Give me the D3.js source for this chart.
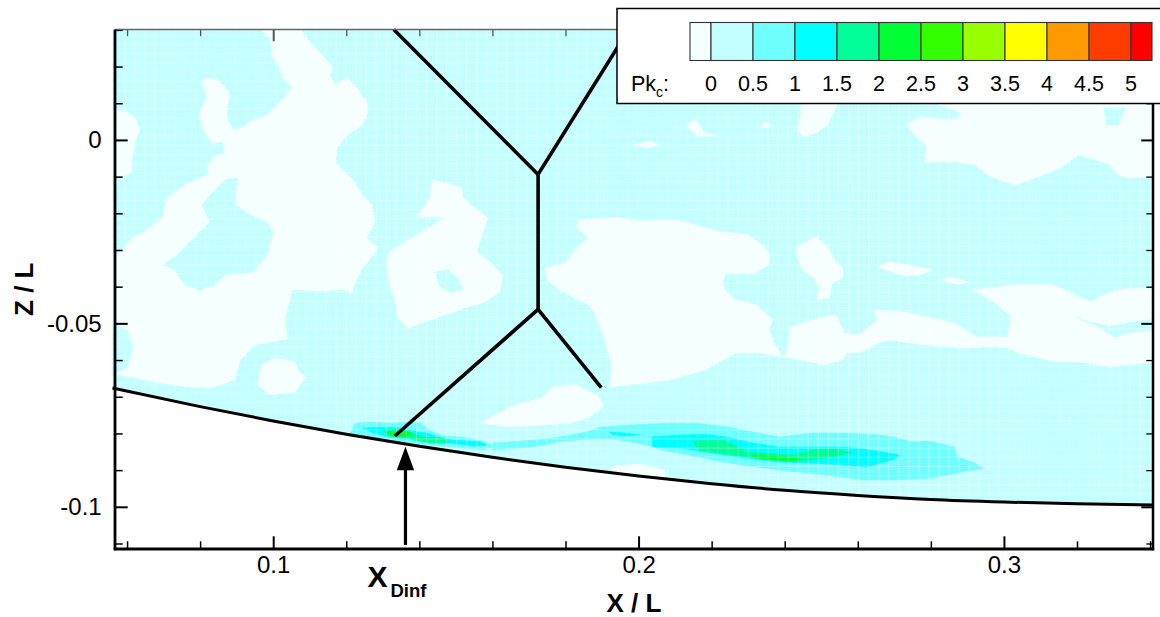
<!DOCTYPE html>
<html><head><meta charset="utf-8">
<script src="https://cdn.jsdelivr.net/npm/d3@7"></script>
<style>
html,body{margin:0;padding:0;background:#fff;}
svg{display:block;font-family:"Liberation Sans",Arial,Helvetica,sans-serif;}
</style></head><body>
<svg id="chart" width="1160" height="617"></svg>
<script>
// ---------------- data ----------------
const xDomain = [0.0567, 0.3408];
const zDomain = [-0.1115, 0.0301];
const xMajorTicks = [0.1, 0.2, 0.3];
const xTickLabels = ["0.1", "0.2", "0.3"];
const xMinorTicks = [0.06, 0.08, 0.12, 0.14, 0.16, 0.18, 0.22, 0.24, 0.26, 0.28, 0.32, 0.34];
const zMajorTicks = [0, -0.05, -0.1];
const zTickLabels = ["0", "-0.05", "-0.1"];
const zMinorTicks = [0.03, 0.02, 0.01, -0.01, -0.02, -0.03, -0.04, -0.06, -0.07, -0.08, -0.09, -0.11];

const legendLevels = [0, 0.5, 1, 1.5, 2, 2.5, 3, 3.5, 4, 4.5, 5];
const legendLabels = ["0", "0.5", "1", "1.5", "2", "2.5", "3", "3.5", "4", "4.5", "5"];
const legendColors = ["#f5ffff", "#c4ffff", "#6effff", "#00ffff", "#00ff99", "#00ff33",
                      "#33ff00", "#99ff00", "#ffff00", "#ff9900", "#ff3c00", "#ff0000"];

// wall (lower boundary of the measured field)
const wallX = [0.0560, 0.08, 0.10, 0.12, 0.14, 0.16, 0.18, 0.20, 0.22, 0.24, 0.26, 0.28, 0.30, 0.32, 0.3410];
const wallZ = [-0.0676, -0.0727, -0.0766, -0.0802, -0.0835, -0.0865, -0.0892, -0.0916, -0.0937, -0.0955, -0.0969, -0.0980, -0.0987, -0.0992, -0.0995];

// shock system lines
const shockUpperLeft  = [[0.1330, 0.0301], [0.1725, -0.0094]];
const shockUpperRight = [[0.1973, 0.0301], [0.1725, -0.0094]];
const shockStem       = [[0.1725, -0.0094], [0.1725, -0.0462]];
const shockLowerLeft  = [[0.1725, -0.0462], [0.1333, -0.0807]];
const shockLowerRight = [[0.1725, -0.0462], [0.1898, -0.0675]];

// X_Dinf arrow
const xDinf = 0.1362, arrowTipZ = -0.0836, arrowTailZ = -0.1104;

// ---- contour regions (x/L, z/L) ----
// Pk_c < 0
const negBlobLeft = [[0.0550,0.0082],[0.0594,0.0079],[0.0622,0.0060],[0.0635,0.0027],[0.0622,-0.0005],[0.0613,-0.0049],[0.0613,-0.0087],[0.0589,-0.0101],[0.0550,-0.0104]];
const negMain = [[0.0955,0.0311],[0.1068,0.0311],[0.1100,0.0267],[0.1128,0.0237],[0.1163,0.0199],[0.1155,0.0177],[0.1169,0.0150],[0.1202,0.0169],[0.1229,0.0142],[0.1256,0.0101],[0.1259,0.0074],[0.1243,0.0041],[0.1210,0.0019],[0.1191,0.0000],[0.1175,-0.0022],[0.1169,-0.0060],[0.1191,-0.0082],[0.1218,-0.0109],[0.1245,-0.0150],[0.1270,-0.0177],[0.1278,-0.0224],[0.1256,-0.0267],[0.1286,-0.0295],[0.1273,-0.0314],[0.1245,-0.0349],[0.1223,-0.0390],[0.1210,-0.0436],[0.1169,-0.0491],[0.1100,-0.0532],[0.1018,-0.0546],[0.0950,-0.0559],[0.0909,-0.0600],[0.0895,-0.0654],[0.0827,-0.0676],[0.0745,-0.0671],[0.0663,-0.0657],[0.0594,-0.0644],[0.0553,-0.0633],[0.0553,-0.0314],[0.0572,-0.0314],[0.0594,-0.0292],[0.0613,-0.0267],[0.0641,-0.0254],[0.0671,-0.0232],[0.0698,-0.0210],[0.0709,-0.0158],[0.0745,-0.0131],[0.0772,-0.0114],[0.0799,-0.0104],[0.0821,-0.0095],[0.0819,-0.0074],[0.0835,-0.0046],[0.0868,-0.0035],[0.0862,-0.0005],[0.0832,-0.0008],[0.0805,0.0033],[0.0799,0.0074],[0.0819,0.0117],[0.0805,0.0155],[0.0813,0.0169],[0.0846,0.0164],[0.0868,0.0144],[0.0881,0.0123],[0.0873,0.0082],[0.0876,0.0049],[0.0895,0.0025],[0.0917,0.0035],[0.0936,0.0049],[0.0983,0.0068],[0.1032,0.0117],[0.1051,0.0144],[0.1024,0.0169],[0.1018,0.0196],[0.0999,0.0224],[0.0991,0.0278]];
const negMid = [[0.1434,-0.0109],[0.1492,-0.0123],[0.1516,-0.0131],[0.1519,-0.0158],[0.1587,-0.0213],[0.1574,-0.0251],[0.1557,-0.0305],[0.1593,-0.0333],[0.1628,-0.0368],[0.1620,-0.0414],[0.1579,-0.0442],[0.1524,-0.0458],[0.1470,-0.0477],[0.1415,-0.0496],[0.1368,-0.0513],[0.1341,-0.0485],[0.1333,-0.0436],[0.1319,-0.0395],[0.1311,-0.0341],[0.1319,-0.0305],[0.1360,-0.0278],[0.1407,-0.0251],[0.1470,-0.0210],[0.1393,-0.0210],[0.1429,-0.0158]];
const negNearWall = [[0.0969,-0.0613],[0.1005,-0.0594],[0.1059,-0.0605],[0.1087,-0.0649],[0.1059,-0.0687],[0.0991,-0.0695],[0.0958,-0.0668]];
const negRightBand = [[0.1836,-0.0218],[0.1940,-0.0210],[0.1995,-0.0221],[0.2088,-0.0218],[0.2129,-0.0224],[0.2181,-0.0240],[0.2214,-0.0248],[0.2299,-0.0259],[0.2340,-0.0286],[0.2359,-0.0314],[0.2356,-0.0341],[0.2318,-0.0363],[0.2288,-0.0363],[0.2239,-0.0363],[0.2230,-0.0390],[0.2239,-0.0414],[0.2266,-0.0436],[0.2323,-0.0450],[0.2351,-0.0477],[0.2381,-0.0499],[0.2414,-0.0510],[0.2507,-0.0482],[0.2540,-0.0477],[0.2564,-0.0526],[0.2603,-0.0532],[0.2654,-0.0491],[0.2643,-0.0464],[0.2726,-0.0469],[0.2862,-0.0499],[0.2925,-0.0537],[0.3010,-0.0537],[0.3021,-0.0482],[0.2966,-0.0436],[0.2914,-0.0409],[0.3029,-0.0395],[0.3136,-0.0395],[0.3207,-0.0428],[0.3240,-0.0442],[0.3183,-0.0469],[0.3207,-0.0491],[0.3251,-0.0507],[0.3303,-0.0540],[0.3344,-0.0526],[0.3426,-0.0518],[0.3426,-0.0605],[0.3333,-0.0613],[0.3292,-0.0619],[0.3207,-0.0605],[0.3147,-0.0605],[0.3040,-0.0581],[0.2999,-0.0564],[0.2947,-0.0564],[0.2884,-0.0567],[0.2788,-0.0559],[0.2685,-0.0545],[0.2654,-0.0554],[0.2611,-0.0578],[0.2570,-0.0581],[0.2559,-0.0600],[0.2507,-0.0613],[0.2414,-0.0594],[0.2329,-0.0581],[0.2266,-0.0581],[0.2181,-0.0627],[0.2088,-0.0654],[0.1921,-0.0674],[0.1927,-0.0613],[0.1907,-0.0545],[0.1888,-0.0491],[0.1866,-0.0450],[0.1825,-0.0431],[0.1784,-0.0409],[0.1751,-0.0382],[0.1743,-0.0349],[0.1784,-0.0341],[0.1806,-0.0327],[0.1831,-0.0292],[0.1864,-0.0267],[0.1831,-0.0240]];
const negTopRight = [[0.2797,0.0109],[0.3426,0.0109],[0.3426,-0.0101],[0.3344,-0.0104],[0.3314,-0.0096],[0.3281,-0.0063],[0.3204,-0.0041],[0.3155,-0.0076],[0.3092,-0.0101],[0.3029,-0.0123],[0.2966,-0.0101],[0.2920,-0.0068],[0.2873,-0.0060],[0.2783,-0.0060],[0.2788,-0.0014],[0.2764,0.0005],[0.2731,0.0041],[0.2775,0.0063],[0.2832,0.0055],[0.2873,0.0057],[0.2884,0.0074],[0.2824,0.0095]];
const negRightStrip = [[0.3177,-0.0472],[0.3218,-0.0450],[0.3292,-0.0414],[0.3344,-0.0404],[0.3426,-0.0404],[0.3426,-0.0485],[0.3344,-0.0496],[0.3289,-0.0507],[0.3221,-0.0491]];
const negSliverA = [[0.2654,-0.0346],[0.2685,-0.0333],[0.2805,-0.0354],[0.2769,-0.0368],[0.2726,-0.0371]];
const negSliverB = [[0.2827,-0.0382],[0.2852,-0.0373],[0.2901,-0.0387],[0.2873,-0.0395]];
const negMidRight = [[0.2433,-0.0319],[0.2433,-0.0292],[0.2485,-0.0264],[0.2518,-0.0292],[0.2540,-0.0335],[0.2559,-0.0349],[0.2559,-0.0376],[0.2528,-0.0390],[0.2523,-0.0431],[0.2485,-0.0436],[0.2496,-0.0404],[0.2479,-0.0376],[0.2449,-0.0354]];
const negBelowLeg = [[0.1566,-0.0772],[0.1648,-0.0728],[0.1738,-0.0701],[0.1765,-0.0673],[0.1831,-0.0668],[0.1894,-0.0701],[0.1902,-0.0728],[0.1866,-0.0755],[0.1812,-0.0772],[0.1738,-0.0777],[0.1648,-0.0782]];
const negWallSliver = [[0.1927,-0.0889],[0.2003,-0.0884],[0.2072,-0.0900],[0.2072,-0.0927],[0.1927,-0.0927]];
const negSpeckA = [[0.2129,0.0041],[0.2156,0.0055],[0.2181,0.0019],[0.2214,0.0014],[0.2162,0.0008]];
const negSpeckB = [[0.2334,0.0041],[0.2351,0.0049],[0.2364,0.0038],[0.2345,0.0033]];
const negSpeckC = [[0.1990,-0.0014],[0.2031,-0.0003],[0.2058,-0.0014],[0.2025,-0.0022]];
const negSpeckD = [[0.2444,0.0109],[0.2548,0.0109],[0.2518,0.0041],[0.2485,0.0019],[0.2449,0.0008],[0.2433,0.0035],[0.2444,0.0063]];

// 0 < Pk_c < 0.5 pockets inside the negative regions
const lowPocketA = [[0.0901,-0.0104],[0.0895,-0.0177],[0.0936,-0.0204],[0.0983,-0.0224],[0.0999,-0.0253],[0.0983,-0.0314],[0.0944,-0.0360],[0.0868,-0.0368],[0.0840,-0.0395],[0.0799,-0.0409],[0.0758,-0.0395],[0.0731,-0.0354],[0.0698,-0.0341],[0.0736,-0.0314],[0.0772,-0.0278],[0.0827,-0.0224],[0.0805,-0.0177],[0.0840,-0.0136],[0.0868,-0.0109]];
const lowPocketB = [[0.1054,-0.0409],[0.1128,-0.0414],[0.1196,-0.0409],[0.1232,-0.0436],[0.1251,-0.0491],[0.1237,-0.0573],[0.1196,-0.0627],[0.1128,-0.0649],[0.1073,-0.0633],[0.1046,-0.0573],[0.1032,-0.0491]];
const lowEdge = [[0.0550,-0.0499],[0.0600,-0.0518],[0.0616,-0.0564],[0.0600,-0.0619],[0.0550,-0.0646]];
const lowIsland = [[0.1442,-0.0360],[0.1478,-0.0354],[0.1505,-0.0376],[0.1519,-0.0409],[0.1483,-0.0417],[0.1456,-0.0398]];
const lowTongue = [[0.2370,-0.0485],[0.2414,-0.0510],[0.2408,-0.0559],[0.2397,-0.0592],[0.2375,-0.0559],[0.2359,-0.0518]];
const lowNotch = [[0.3273,0.0087],[0.3333,0.0087],[0.3314,0.0041],[0.3281,0.0041]];

// 0.5 - 1
const level05A = [[0.1224,-0.0772],[0.1265,-0.0769],[0.1319,-0.0772],[0.1374,-0.0769],[0.1401,-0.0772],[0.1429,-0.0791],[0.1464,-0.0807],[0.1519,-0.0810],[0.1574,-0.0821],[0.1607,-0.0834],[0.1574,-0.0845],[0.1519,-0.0840],[0.1448,-0.0834],[0.1374,-0.0826],[0.1300,-0.0818],[0.1245,-0.0810],[0.1210,-0.0802]];
const level05B = [[0.1784,-0.0810],[0.1858,-0.0796],[0.1894,-0.0783],[0.1976,-0.0777],[0.2077,-0.0772],[0.2159,-0.0772],[0.2250,-0.0783],[0.2312,-0.0796],[0.2386,-0.0810],[0.2477,-0.0799],[0.2570,-0.0799],[0.2660,-0.0804],[0.2706,-0.0812],[0.2750,-0.0823],[0.2797,-0.0821],[0.2865,-0.0837],[0.2871,-0.0864],[0.2914,-0.0878],[0.2942,-0.0894],[0.2887,-0.0905],[0.2797,-0.0922],[0.2706,-0.0927],[0.2613,-0.0927],[0.2523,-0.0914],[0.2433,-0.0905],[0.2340,-0.0894],[0.2250,-0.0881],[0.2159,-0.0864],[0.2066,-0.0845],[0.2022,-0.0832],[0.1976,-0.0823],[0.1929,-0.0815],[0.1886,-0.0815],[0.1839,-0.0818],[0.1784,-0.0821]];
const level05C = [[0.1601,-0.0826],[0.1675,-0.0821],[0.1743,-0.0815],[0.1784,-0.0810],[0.1784,-0.0821],[0.1743,-0.0832],[0.1675,-0.0840],[0.1601,-0.0845]];
// 1 - 1.5
const level10A = [[0.1245,-0.0785],[0.1300,-0.0783],[0.1355,-0.0785],[0.1393,-0.0796],[0.1421,-0.0799],[0.1456,-0.0810],[0.1492,-0.0818],[0.1566,-0.0823],[0.1585,-0.0832],[0.1546,-0.0834],[0.1483,-0.0826],[0.1437,-0.0826],[0.1382,-0.0818],[0.1319,-0.0810],[0.1273,-0.0799]];
const level10B = [[0.2036,-0.0810],[0.2113,-0.0804],[0.2187,-0.0802],[0.2250,-0.0812],[0.2312,-0.0826],[0.2386,-0.0837],[0.2477,-0.0837],[0.2570,-0.0837],[0.2633,-0.0845],[0.2715,-0.0859],[0.2695,-0.0872],[0.2660,-0.0881],[0.2624,-0.0892],[0.2570,-0.0886],[0.2477,-0.0881],[0.2386,-0.0878],[0.2296,-0.0867],[0.2203,-0.0854],[0.2113,-0.0840],[0.2039,-0.0837]];
const level10C = [[0.1921,-0.0796],[0.1957,-0.0799],[0.2003,-0.0804],[0.1957,-0.0807],[0.1927,-0.0802]];
// 1.5 - 2
const level15A = [[0.1300,-0.0791],[0.1347,-0.0788],[0.1382,-0.0799],[0.1410,-0.0810],[0.1456,-0.0812],[0.1483,-0.0823],[0.1456,-0.0826],[0.1410,-0.0823],[0.1366,-0.0812],[0.1319,-0.0807]];
const level15B = [[0.2148,-0.0821],[0.2230,-0.0818],[0.2263,-0.0832],[0.2296,-0.0851],[0.2351,-0.0854],[0.2422,-0.0859],[0.2477,-0.0845],[0.2531,-0.0843],[0.2586,-0.0851],[0.2531,-0.0864],[0.2477,-0.0872],[0.2422,-0.0878],[0.2351,-0.0872],[0.2296,-0.0864],[0.2222,-0.0854],[0.2167,-0.0845],[0.2154,-0.0832]];
// 2 - 2.5
const level20A = [[0.1311,-0.0796],[0.1355,-0.0793],[0.1379,-0.0799],[0.1366,-0.0810],[0.1327,-0.0807]];
const level20B = [[0.2312,-0.0859],[0.2351,-0.0862],[0.2405,-0.0864],[0.2441,-0.0870],[0.2422,-0.0875],[0.2351,-0.0870],[0.2312,-0.0864]];

// ---------------- drawing ----------------
const plot = {l: 115, r: 1153, t: 29.5, b: 549};
const svg = d3.select("#chart");
const x = d3.scaleLinear().domain(xDomain).range([plot.l, plot.r]);
const y = d3.scaleLinear().domain(zDomain).range([plot.b, plot.t]);

const wall = wallX.map((v, i) => [v, wallZ[i]]);
const fieldArea = d3.area().x(d => x(d[0])).y0(y(zDomain[1])).y1(d => y(d[1])).curve(d3.curveMonotoneX);
const defs = svg.append("defs");
defs.append("clipPath").attr("id", "fieldClip").append("path").attr("d", fieldArea(wall));

const field = svg.append("g").attr("clip-path", "url(#fieldClip)");
field.append("path").attr("d", fieldArea(wall)).attr("fill", legendColors[1]);

const poly = d3.line().x(d => x(d[0])).y(d => y(d[1])).curve(d3.curveLinearClosed);
const layers = [
  {polys: [negBlobLeft, negMain, negMid, negNearWall, negRightBand, negTopRight, negRightStrip,
           negSliverA, negSliverB, negMidRight, negBelowLeg, negWallSliver,
           negSpeckA, negSpeckB, negSpeckC, negSpeckD], color: legendColors[0]},
  {polys: [lowPocketA, lowPocketB, lowEdge, lowIsland, lowTongue, lowNotch], color: legendColors[1]},
  {polys: [level05A, level05B, level05C], color: legendColors[2]},
  {polys: [level10A, level10B, level10C], color: legendColors[3]},
  {polys: [level15A, level15B], color: legendColors[4]},
  {polys: [level20A, level20B], color: legendColors[5]}
];
layers.forEach(L => {
  field.append("g").selectAll("path").data(L.polys).join("path")
    .attr("d", poly).attr("fill", L.color).attr("stroke", L.color).attr("stroke-width", 0.6);
});

// faint mesh lines of the measurement grid
const meshX = d3.range(xDomain[0], xDomain[1], 0.00275);
const meshZ = d3.range(zDomain[0], zDomain[1], 0.0025);
const mesh = field.append("g").attr("stroke", "#ffffff").attr("stroke-opacity", 0.35).attr("stroke-width", 1);
mesh.selectAll("line.v").data(meshX).join("line").attr("class", "v")
  .attr("x1", d => x(d)).attr("x2", d => x(d)).attr("y1", plot.t).attr("y2", plot.b);
mesh.selectAll("line.h").data(meshZ).join("line").attr("class", "h")
  .attr("x1", plot.l).attr("x2", plot.r).attr("y1", d => y(d)).attr("y2", d => y(d));

// wall line
const lineGen = d3.line().x(d => x(d[0])).y(d => y(d[1]));
svg.append("path").attr("d", d3.line().x(d => x(d[0])).y(d => y(d[1])).curve(d3.curveMonotoneX)(wall))
  .attr("fill", "none").attr("stroke", "#000").attr("stroke-width", 3);

// shock lines
[shockUpperLeft, shockUpperRight, shockStem, shockLowerLeft, shockLowerRight].forEach(s => {
  svg.append("path").attr("d", lineGen(s)).attr("fill", "none")
    .attr("stroke", "#000").attr("stroke-width", 3.6).attr("stroke-linecap", "butt");
});

// arrow
const ax = x(xDinf), tipY = y(arrowTipZ);
svg.append("line").attr("x1", ax).attr("x2", ax).attr("y1", y(arrowTailZ)).attr("y2", tipY + 20)
  .attr("stroke", "#000").attr("stroke-width", 3.2);
svg.append("path").attr("d", `M${ax},${tipY}L${ax - 8.7},${tipY + 23.5}L${ax + 8.7},${tipY + 23.5}Z`).attr("fill", "#000");
const xd = svg.append("text").attr("x", ax - 38).attr("y", 587).attr("font-weight", "bold")
  .attr("font-size", 30).attr("fill", "#000");
xd.append("tspan").text("X");
xd.append("tspan").attr("dx", 3).attr("dy", 9.7).attr("font-size", 18.5).text("Dinf");

// axes
function styleAxis(g) {
  g.select(".domain").remove();
  g.selectAll(".tick line").attr("stroke", "#000");
  g.selectAll(".tick text").attr("font-size", 24).attr("fill", "#000")
    .attr("font-family", '"Liberation Sans", Arial, sans-serif');
}
const gx = svg.append("g").attr("transform", `translate(0,${plot.b})`)
  .call(d3.axisBottom(x).tickValues(xMajorTicks).tickFormat((d, i) => xTickLabels[i]).tickSize(-12.7).tickPadding(7.3));
styleAxis(gx); gx.selectAll(".tick line").attr("stroke-width", 2);
const gxm = svg.append("g").attr("transform", `translate(0,${plot.b})`)
  .call(d3.axisBottom(x).tickValues(xMinorTicks).tickFormat("").tickSize(-7.7));
styleAxis(gxm); gxm.selectAll(".tick line").attr("stroke-width", 1.5);

const gxt = svg.append("g").attr("transform", `translate(0,${plot.t})`)
  .call(d3.axisTop(x).tickValues(xMajorTicks).tickFormat("").tickSize(-11.7));
styleAxis(gxt); gxt.selectAll(".tick line").attr("stroke-width", 2).attr("stroke", "#555");
const gxtm = svg.append("g").attr("transform", `translate(0,${plot.t})`)
  .call(d3.axisTop(x).tickValues(xMinorTicks).tickFormat("").tickSize(-6.7));
styleAxis(gxtm); gxtm.selectAll(".tick line").attr("stroke-width", 1.3).attr("stroke", "#555");

const gy = svg.append("g").attr("transform", `translate(${plot.l},0)`)
  .call(d3.axisLeft(y).tickValues(zMajorTicks).tickFormat((d, i) => zTickLabels[i]).tickSize(-12.7).tickPadding(13.3));
styleAxis(gy); gy.selectAll(".tick line").attr("stroke-width", 2);
const gym = svg.append("g").attr("transform", `translate(${plot.l},0)`)
  .call(d3.axisLeft(y).tickValues(zMinorTicks).tickFormat("").tickSize(-7.7));
styleAxis(gym); gym.selectAll(".tick line").attr("stroke-width", 1.5);

const gyr = svg.append("g").attr("transform", `translate(${plot.r},0)`)
  .call(d3.axisRight(y).tickValues(zMajorTicks).tickFormat("").tickSize(-11.7));
styleAxis(gyr); gyr.selectAll(".tick line").attr("stroke-width", 2);
const gyrm = svg.append("g").attr("transform", `translate(${plot.r},0)`)
  .call(d3.axisRight(y).tickValues(zMinorTicks).tickFormat("").tickSize(-6.7));
styleAxis(gyrm); gyrm.selectAll(".tick line").attr("stroke-width", 1.3);

// frame
svg.append("line").attr("x1", plot.l).attr("x2", plot.r).attr("y1", plot.t).attr("y2", plot.t)
  .attr("stroke", "#666").attr("stroke-width", 1.6);
svg.append("line").attr("x1", plot.r).attr("x2", plot.r).attr("y1", plot.t).attr("y2", plot.b + 1.2)
  .attr("stroke", "#000").attr("stroke-width", 2.5);
svg.append("line").attr("x1", plot.l).attr("x2", plot.l).attr("y1", plot.t).attr("y2", plot.b + 1.2)
  .attr("stroke", "#000").attr("stroke-width", 2.8);
svg.append("line").attr("x1", plot.l - 1.2).attr("x2", plot.r + 1.2).attr("y1", plot.b).attr("y2", plot.b)
  .attr("stroke", "#000").attr("stroke-width", 2.8);

// axis titles
svg.append("text").attr("x", (plot.l + plot.r) / 2).attr("y", 612).attr("text-anchor", "middle")
  .attr("font-weight", "bold").attr("font-size", 26).text("X / L");
svg.append("text").attr("transform", `translate(33,${(plot.t + plot.b) / 2}) rotate(-90)`)
  .attr("text-anchor", "middle").attr("font-weight", "bold").attr("font-size", 26).text("Z / L");

// legend
const lg = svg.append("g");
lg.append("rect").attr("x", 617).attr("y", 8.5).attr("width", 560).attr("height", 95)
  .attr("fill", "#fff").attr("stroke", "#000").attr("stroke-width", 1.5);
const ls = d3.scaleLinear().domain([legendLevels[0], legendLevels[legendLevels.length - 1]]).range([711, 1131]);
const step = legendLevels[1] - legendLevels[0];
const edges = [legendLevels[0] - step / 2, ...legendLevels, legendLevels[legendLevels.length - 1] + step / 2];
const cells = d3.range(edges.length - 1).map(i => ({a: edges[i], b: edges[i + 1], c: legendColors[i]}));
lg.selectAll("rect.cell").data(cells).join("rect").attr("class", "cell")
  .attr("x", d => ls(d.a)).attr("width", d => ls(d.b) - ls(d.a))
  .attr("y", 22.5).attr("height", 38)
  .attr("fill", d => d.c).attr("stroke", "#333").attr("stroke-width", 1.1);
lg.selectAll("text.lab").data(legendLevels).join("text").attr("class", "lab")
  .attr("x", d => ls(d)).attr("y", 91).attr("text-anchor", "middle")
  .attr("font-size", 21.5).text((d, i) => legendLabels[i]);
const pk = lg.append("text").attr("x", 631).attr("y", 91).attr("font-size", 21.5);
pk.append("tspan").text("Pk");
pk.append("tspan").attr("dy", 6).attr("font-size", 14).text("c");
pk.append("tspan").attr("dy", -6).text(":");
</script></body></html>
